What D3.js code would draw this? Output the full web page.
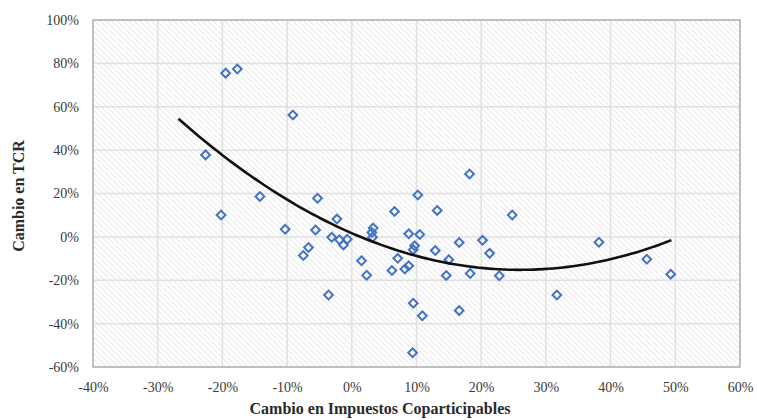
<!DOCTYPE html>
<html>
<head>
<meta charset="utf-8">
<script src="https://cdn.jsdelivr.net/npm/d3@7"></script>
<style>
  body { margin: 0; background: #fff; }
  svg text { font-family: "Liberation Serif", "Times New Roman", serif; }
</style>
</head>
<body>
<div id="chart"></div>
<script>
// Cambio en Impuestos Coparticipables (x) vs Cambio en TCR (y), as fractions
var xVals = [-0.226, -0.202, -0.195, -0.177, -0.142, -0.103, -0.091, -0.053, -0.056, -0.067,
             -0.075, -0.023, -0.031, -0.019, -0.007, -0.013, 0.033, 0.032, 0.015, 0.023,
             -0.036, 0.182, 0.102, 0.066, 0.132, 0.248, 0.088, 0.105, 0.166, 0.202,
             0.213, 0.097, 0.095, 0.129, 0.071, 0.088, 0.082, 0.062, 0.150, 0.146,
             0.183, 0.228, 0.095, 0.109, 0.166, 0.094, 0.317, 0.382, 0.456, 0.493,
             0.031];
var yVals = [0.378, 0.101, 0.755, 0.774, 0.186, 0.035, 0.562, 0.178, 0.032, -0.049,
             -0.086, 0.082, -0.002, -0.013, -0.011, -0.037, 0.041, -0.002, -0.110, -0.177,
             -0.268, 0.290, 0.193, 0.117, 0.122, 0.101, 0.014, 0.011, -0.026, -0.016,
             -0.076, -0.041, -0.059, -0.063, -0.099, -0.133, -0.148, -0.155, -0.105, -0.178,
             -0.169, -0.179, -0.306, -0.364, -0.340, -0.534, -0.268, -0.025, -0.103, -0.172,
             0.020];

// polynomial trendline (order 2): c0 + c1*x + c2*x^2, and the x span it covers
var trendCoef = [0.017, -1.30, 2.50];
var trendSpan = [-0.268, 0.494];

var xTicks = [-0.4, -0.3, -0.2, -0.1, 0, 0.1, 0.2, 0.3, 0.4, 0.5, 0.6];
var yTicks = [-0.6, -0.4, -0.2, 0, 0.2, 0.4, 0.6, 0.8, 1.0];

var data = xVals.map(function(d, i) { return {x: d, y: yVals[i]}; });

var margin = {top: 20, right: 17, bottom: 53, left: 93},
    width = 757 - margin.left - margin.right,
    height = 420 - margin.top - margin.bottom;

var svg = d3.select("#chart")
    .append("svg")
    .attr("width", 757)
    .attr("height", 420);

// diagonal hatch fill of the plot area
var defs = svg.append("defs");
var hatch = defs.append("pattern")
    .attr("id", "hatch")
    .attr("patternUnits", "userSpaceOnUse")
    .attr("width", 4)
    .attr("height", 4)
    .attr("patternTransform", "rotate(-45)");
hatch.append("rect").attr("width", 4).attr("height", 4).attr("fill", "#ffffff");
hatch.append("line")
    .attr("x1", 0).attr("y1", 0).attr("x2", 0).attr("y2", 4)
    .attr("stroke", "#e2e2e2")
    .attr("stroke-width", 1.6);

var g = svg.append("g")
    .attr("transform", "translate(" + margin.left + "," + margin.top + ")");

var x = d3.scaleLinear().domain([-0.4, 0.6]).range([0, width]);
var y = d3.scaleLinear().domain([-0.6, 1.0]).range([height, 0]);

g.append("rect")
    .attr("width", width)
    .attr("height", height)
    .attr("fill", "url(#hatch)");

// gridlines
g.append("g")
    .selectAll("line")
    .data(xTicks)
    .enter().append("line")
    .attr("x1", function(d) { return x(d); })
    .attr("x2", function(d) { return x(d); })
    .attr("y1", 0)
    .attr("y2", height)
    .attr("stroke", "#e0e0e0")
    .attr("stroke-width", 1.5);

g.append("g")
    .selectAll("line")
    .data(yTicks)
    .enter().append("line")
    .attr("x1", 0)
    .attr("x2", width)
    .attr("y1", function(d) { return y(d); })
    .attr("y2", function(d) { return y(d); })
    .attr("stroke", "#e0e0e0")
    .attr("stroke-width", 1.5);

// frame
g.append("rect")
    .attr("width", width)
    .attr("height", height)
    .attr("fill", "none")
    .attr("stroke", "#a6a6a6")
    .attr("stroke-width", 1.2);

// percent labels with a plain hyphen, like the original
var fmt = function(d) { return d3.format(".0%")(d).replace("\u2212", "-"); };

var xAxis = g.append("g")
    .attr("transform", "translate(0," + height + ")")
    .call(d3.axisBottom(x).tickValues(xTicks).tickFormat(fmt).tickSize(0).tickPadding(15));
var yAxis = g.append("g")
    .call(d3.axisLeft(y).tickValues(yTicks).tickFormat(fmt).tickSize(0).tickPadding(14));
[xAxis, yAxis].forEach(function(a) {
    a.select(".domain").remove();
    a.selectAll("text")
        .style("font-family", "'Liberation Serif', serif")
        .style("font-size", "14px")
        .attr("fill", "#3a3a3a");
});

// points
g.append("g")
    .selectAll("path")
    .data(data)
    .enter().append("path")
    .attr("d", d3.symbol().type(d3.symbolSquare).size(38))
    .attr("transform", function(d) { return "translate(" + x(d.x) + "," + y(d.y) + ") rotate(45)"; })
    .attr("fill", "none")
    .attr("stroke", "#4472c4")
    .attr("stroke-width", 2);

// trendline
var steps = d3.range(0, 101).map(function(i) {
    return trendSpan[0] + (trendSpan[1] - trendSpan[0]) * i / 100;
});
var line = d3.line()
    .x(function(d) { return x(d); })
    .y(function(d) { return y(trendCoef[0] + trendCoef[1] * d + trendCoef[2] * d * d); });

g.append("path")
    .datum(steps)
    .attr("d", line)
    .attr("fill", "none")
    .attr("stroke", "#111")
    .attr("stroke-width", 2.6);

// axis titles
svg.append("text")
    .attr("text-anchor", "middle")
    .attr("x", 380)
    .attr("y", 414)
    .style("font-size", "16px")
    .style("font-weight", "bold")
    .attr("fill", "#2a2a2a")
    .text("Cambio en Impuestos Coparticipables");

svg.append("text")
    .attr("text-anchor", "middle")
    .attr("transform", "translate(24,196) rotate(-90)")
    .style("font-size", "16px")
    .style("font-weight", "bold")
    .attr("fill", "#2a2a2a")
    .text("Cambio en TCR");
</script>
</body>
</html>
